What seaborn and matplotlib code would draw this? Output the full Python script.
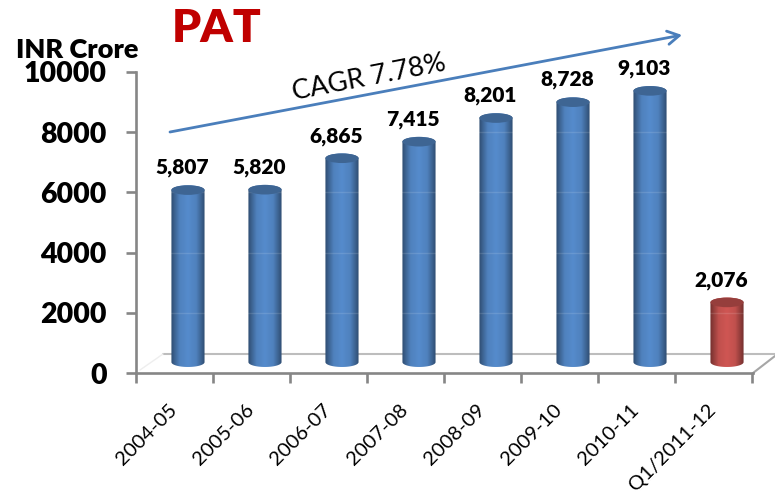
import numpy as np
import pandas as pd
import seaborn as sns
import matplotlib.pyplot as plt
from matplotlib.colors import LinearSegmentedColormap, to_rgb
from matplotlib.patches import Ellipse, PathPatch
from matplotlib.path import Path

years = ["2004-05", "2005-06", "2006-07", "2007-08", "2008-09", "2009-10", "2010-11", "Q1/2011-12"]
pat = [5807, 5820, 6865, 7415, 8201, 8728, 9103, 2076]
bar_colors = ["#4f81bd"] * 7 + ["#c0504d"]
yticks = [0, 2000, 4000, 6000, 8000, 10000]

# the bars stand on the 3d floor, a bit above the zero line
floor = 270

sns.set_theme(style="white")
plt.rcParams["font.family"] = ["Lato", "DejaVu Sans"]

df = pd.DataFrame({"year": years, "pat": pat})

fig = plt.figure(figsize=(7.75, 4.95), dpi=100)
ax = fig.add_axes([136 / 775, 122 / 495, 617 / 775, 301 / 495])
sns.barplot(data=df, x="year", y="pat", hue="year", palette=bar_colors, legend=False,
            width=0.43, bottom=floor, ax=ax, zorder=3)

left, right = -0.675, 7.3375
ell_h = 320

# cylinder look for each bar
for bar, col, value in zip(ax.patches, bar_colors, pat):
    x0 = bar.get_x()
    w = bar.get_width()
    y0 = bar.get_y()
    y1 = y0 + bar.get_height()
    cx = x0 + w / 2
    bar.set_visible(False)

    rgb = to_rgb(col)
    dark = tuple(c * 0.6 for c in rgb)
    mid = tuple(min(c * 1.08, 1) for c in rgb)
    cmap = LinearSegmentedColormap.from_list("cyl", [dark, col, mid, col, dark])
    base = y0 + 90
    t = np.linspace(np.pi, 2 * np.pi, 40)
    low = np.column_stack([cx + w / 2 * np.cos(t), base + ell_h / 2 * np.sin(t)])
    t2 = np.linspace(0, np.pi, 40)
    up = np.column_stack([cx + w / 2 * np.cos(t2), y1 + ell_h / 2 * np.sin(t2)])
    outline = np.vstack([low, up, low[:1]])
    clip = PathPatch(Path(outline), transform=ax.transData, fc="none", ec="none")
    ax.add_patch(clip)
    im = ax.imshow(np.linspace(0, 1, 64)[None, :], cmap=cmap, aspect="auto", zorder=3,
                   extent=[x0, x0 + w, y0 - ell_h, y1 + ell_h])
    im.set_clip_path(clip)

    # faint gridline marks that show through the bars
    for g in yticks[1:]:
        if base < g < y1:
            ax.plot([x0, x0 + w], [g, g], color="white", alpha=0.12, lw=1, zorder=3.5)

    top = Ellipse((cx, y1), w, ell_h, fc=tuple(c * 0.78 for c in rgb), ec="none", zorder=4)
    ax.add_patch(top)

    ax.annotate(f"{value:,}", (cx, y1), xytext=(-4, 16), textcoords="offset points", ha="center",
                va="center", fontsize=15, fontweight="heavy", color="black", zorder=5,
                annotation_clip=False)

ax.set_xlim(left, right)
ax.set_ylim(0, 10000)
ax.set_xlabel("")
ax.set_ylabel("")

for s in ["top", "right"]:
    ax.spines[s].set_visible(False)
for s in ["left", "bottom"]:
    ax.spines[s].set_color("#868686")
    ax.spines[s].set_linewidth(1.9)

ax.set_yticks(yticks)
ax.set_yticklabels([str(v) for v in yticks], fontsize=20.5, fontweight="heavy", color="black")
ax.tick_params(axis="y", length=7, width=1.9, color="#868686", pad=14, left=True)

# tick marks sit on the category borders, labels between them
ax.set_xticks([i - 0.26 for i in range(len(years))])
ax.set_xticklabels(years, rotation=45, ha="right", rotation_mode="anchor", fontsize=14.5, color="black")
ax.tick_params(axis="x", which="major", length=0, pad=20)
ax.set_xticks([left + i for i in range(len(years) + 1)], minor=True)
ax.tick_params(axis="x", which="minor", length=7, width=1.9, color="#868686", bottom=True)


def px(x, y):
    return x / 775, 1 - y / 495


# 3d floor lines
fig.add_artist(plt.Line2D([px(163, 0)[0], px(775, 0)[0]], [px(0, 354)[1]] * 2, color="#bdbdbd", lw=1.5, zorder=1))
fig.add_artist(plt.Line2D([px(753, 0)[0], px(775, 0)[0]], [px(0, 373)[1], px(0, 356)[1]], color="#a6a6a6", lw=1.5, zorder=1))
fig.add_artist(plt.Line2D([px(140, 0)[0], px(163, 0)[0]], [px(0, 370)[1], px(0, 354)[1]], color="#eeeeee", lw=1, zorder=1))

ax.set_zorder(2)
ax.patch.set_alpha(0)

fig.text(*px(217, 28), "PAT", color="#c00000", fontsize=33, fontweight="heavy", ha="center", va="center")
fig.text(*px(77, 50), "INR Crore", color="black", fontsize=19.5, fontweight="heavy", ha="center", va="center")
fig.text(*px(369, 78), "CAGR 7.78%", color="black", fontsize=19.5, rotation=11, ha="center", va="center")

ax.annotate("", xy=px(682, 35), xytext=px(170, 132), xycoords="figure fraction", textcoords="figure fraction",
            arrowprops=dict(arrowstyle="->,head_length=0.7,head_width=0.4", color="#4a7ebb", lw=2,
                            shrinkA=0, shrinkB=0), annotation_clip=False)

fig.savefig("out.png", dpi=100)
